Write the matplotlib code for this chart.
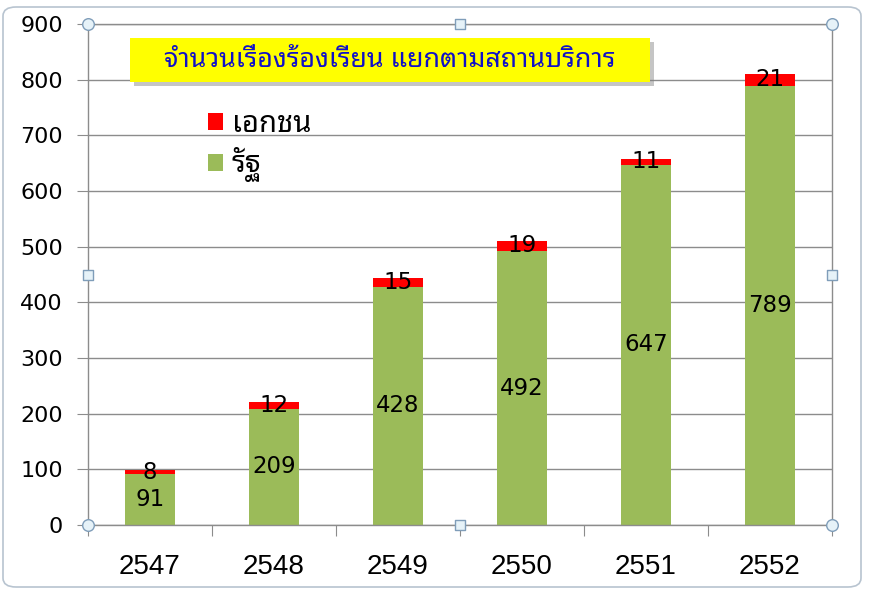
import matplotlib
matplotlib.use("Agg")
import matplotlib.pyplot as plt
from matplotlib.patches import Rectangle, FancyBboxPatch
import numpy as np

years = ["2547", "2548", "2549", "2550", "2551", "2552"]
state = [91, 209, 428, 492, 647, 789]      # รัฐ
private = [8, 12, 15, 19, 11, 21]          # เอกชน
yticks = [0, 100, 200, 300, 400, 500, 600, 700, 800, 900]
title = "จำนวนเรื่องร้องเรียน แยกตามสถานบริการ"
label_private = "เอกชน"
label_state = "รัฐ"

GREEN = "#9BBB59"
RED = "#FF0000"
GRID = "#8C8C8C"
THAI = ["Noto Sans Thai Looped", "DejaVu Sans"]

W, H = 869, 591
fig = plt.figure(figsize=(W / 100, H / 100), dpi=100)
fig.patch.set_facecolor("white")

# outer chart frame
frame = FancyBboxPatch((3 / W, 4 / H), 858 / W, 580 / H,
                       boxstyle="round,pad=0,rounding_size=0.015",
                       transform=fig.transFigure, facecolor="none",
                       edgecolor="#B8C4D0", linewidth=1.2, zorder=-1)
fig.patches.append(frame)

L, R, T, B = 88, 832, 24, 525
ax = fig.add_axes([L / W, 1 - B / H, (R - L) / W, (B - T) / H])
ax.set_facecolor("none")
x = np.arange(len(years))
bw = 0.40
ax.bar(x, state, width=bw, color=GREEN, label=label_state, zorder=2)
ax.bar(x, private, width=bw, bottom=state, color=RED, label=label_private, zorder=2)

for xi, s, p in zip(x, state, private):
    ax.text(xi, s / 2, str(s), ha="center", va="center", fontsize=16.5,
            family="DejaVu Sans", color="black", zorder=3)
    ax.text(xi, s + p / 2, str(p), ha="center", va="center", fontsize=16.5,
            family="DejaVu Sans", color="black", zorder=3)

ax.set_xlim(-0.5, len(years) - 0.5)
ax.set_ylim(0, 900)
ax.set_yticks(yticks)
ax.set_yticklabels([str(v) for v in yticks], fontsize=16, family="DejaVu Sans")
ax.yaxis.grid(True, color=GRID, linewidth=1.0, zorder=0)
ax.set_axisbelow(True)

# x ticks at category boundaries, labels centered
ax.set_xticks(np.arange(-0.5, len(years)), minor=False)
ax.set_xticklabels([""] * (len(years) + 1))
ax.set_xticks(x, minor=True)
ax.set_xticklabels(years, minor=True, fontsize=20, family="Liberation Sans")
ax.tick_params(axis="x", which="minor", length=0, pad=21)
ax.tick_params(axis="x", which="major", length=8, color=GRID, direction="out")
ax.tick_params(axis="y", length=8, color=GRID, direction="out", pad=10)

for sp in ax.spines.values():
    sp.set_color(GRID)
    sp.set_linewidth(1.0)

# title box with shadow
bx0, by0, bw_, bh_ = (130 - L) / (R - L), (B - 82) / (B - T), 520 / (R - L), 44 / (B - T)
dx, dy = 4 / (R - L), -4 / (B - T)
ax.add_patch(Rectangle((bx0 + dx, by0 + dy), bw_, bh_, transform=ax.transAxes,
                       facecolor="#808080", alpha=0.45, edgecolor="none",
                       zorder=4, clip_on=False))
ax.add_patch(Rectangle((bx0, by0), bw_, bh_, transform=ax.transAxes,
                       facecolor="#FFFF00", edgecolor="none", zorder=5, clip_on=False))
ax.text(bx0 + bw_ / 2, by0 + bh_ / 2, title, transform=ax.transAxes,
        ha="center", va="center", fontsize=19.3, fontweight="bold",
        color="#1010C8", family=THAI, zorder=6)

# legend
h, lab = ax.get_legend_handles_labels()
leg = ax.legend(h[::-1], lab[::-1], loc="upper left",
                bbox_to_anchor=((196 - L) / (R - L), (B - 98) / (B - T)),
                frameon=False, handlelength=0.52, handleheight=0.52,
                handletextpad=0.3, labelspacing=0.3, borderaxespad=0,
                prop={"family": THAI, "size": 21})

# selection handles
hx = [0, 1, 0, 1]
hy = [0, 0, 1, 1]
ax.scatter(hx, hy, s=70, marker="o", facecolor="#E6F2F8", edgecolor="#7F9DB9",
           transform=ax.transAxes, clip_on=False, zorder=7, linewidth=1)
ax.scatter([0.5, 0.5, 0, 1], [0, 1, 0.5, 0.5], s=45, marker="s", facecolor="#E6F2F8",
           edgecolor="#7F9DB9", transform=ax.transAxes, clip_on=False, zorder=7, linewidth=1)

fig.savefig("out.png", dpi=100)
